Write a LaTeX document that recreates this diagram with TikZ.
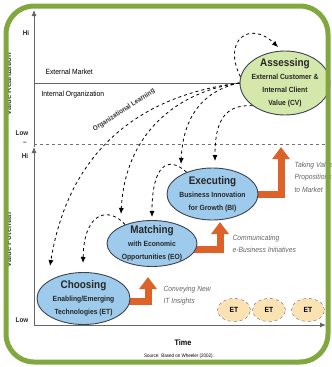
\documentclass[tikz,border=0pt]{standalone}
\usepackage{fontspec}
\setmainfont{Liberation Sans}[FakeStretch=0.9]
\usepackage{xcolor}
\usepackage{tikz}
\usetikzlibrary{positioning,shapes.geometric,arrows.meta,backgrounds}
\definecolor{framegreen}{RGB}{128,168,62}
\definecolor{stageblue}{RGB}{158,203,236}
\definecolor{stagegreen}{RGB}{212,232,172}
\definecolor{etfill}{RGB}{251,226,178}
\definecolor{growthorange}{RGB}{221,98,42}
\definecolor{edgegray}{RGB}{60,66,80}
\newcommand{\stagehead}[1]{{\fontsize{11}{13}\selectfont #1}}

\begin{document}
\begin{tikzpicture}[x=1pt, y=-1pt,
  stage/.style={draw=edgegray, line width=0.9pt, ellipse, inner sep=0pt},
  stagetext/.style={align=center, font=\bfseries\fontsize{7.5}{13}\selectfont, text=black!85},
  etnode/.style={draw=edgegray!80, dashed, ellipse, fill=etfill, minimum width=33pt, minimum height=23pt, inner sep=0pt, font=\bfseries\fontsize{7.5}{9}\selectfont},
  learning/.style={dashed, line width=0.8pt, -{Latex[length=6pt,width=5pt]}},
  growth/.style={growthorange, line width=7pt, -{Triangle[length=12pt,width=17pt]}},
  note/.style={anchor=west, align=left, text=black!60, font=\itshape\fontsize{7.5}{12.5}\selectfont},
  level/.style={font=\bfseries\fontsize{7}{8}\selectfont, text=black!85},
  axisline/.style={draw=black!60, line width=0.8pt}]
\useasboundingbox (0,0) rectangle (332,367);

\node[rotate=90, font=\bfseries\fontsize{8.5}{9}\selectfont, text=black!75] (vr) at (8,84) {Value Realization};
\node[rotate=90, font=\bfseries\fontsize{8.5}{9}\selectfont, text=black!75] (vp) at (8,240) {Value Potential};
\node[level] (hi1) at (26,33) {Hi};
\node[level] (low1) at (22,133) {Low};
\node[level] (dash1) at (25,143) {--};
\node[level] (hi2) at (25,156) {Hi};
\node[level] (low2) at (22,320) {Low};

\node[stage, fill=stagegreen, minimum width=90pt, minimum height=64pt, label={[stagetext]center:{\stagehead{Assessing}\\External Customer \&\\Internal Client\\Value (CV)}}] (cv) at (285,83) {};
\node[stage, fill=stageblue, minimum width=91pt, minimum height=52pt, label={[stagetext]center:{\stagehead{Executing}\\Business Innovation\\for Growth (BI)}}] (bi) at (212.5,194) {};
\node[stage, fill=stageblue, minimum width=90pt, minimum height=46pt, label={[stagetext]center:{\stagehead{Matching}\\with Economic\\Opportunities (EO)}}] (eo) at (152,243.5) {};
\node[stage, fill=stageblue, minimum width=93pt, minimum height=52pt, label={[stagetext]center:{\stagehead{Choosing}\\Enabling/Emerging\\Technologies (ET)}}] (et) at (83.5,298.5) {};

\draw[axisline, -{Latex[length=6pt,width=5pt]}] (34,325) -- (34,147);
\draw[axisline, -{Latex[length=6pt,width=5pt]}] (34,147) -- (34,10);
\draw[axisline, -{Latex[length=6pt,width=5pt]}] (34,325) -- (326,325);
\draw[axisline] (34,83) -- (cv.west);
\draw[black!55, dashed, line width=0.8pt] (34,144) -- (328,144);

\node[anchor=west, font=\fontsize{7.5}{9}\selectfont] (market) at (42,72) {External Market};
\node[anchor=west, font=\fontsize{7.5}{9}\selectfont] (internal) at (38,95) {Internal Organization};
\node[rotate=33, font=\bfseries\fontsize{7}{8}\selectfont, text=black!80, inner sep=1pt] (orglearn) at (124,110) {Organizational Learning};

\coordinate (toET) at (50,266);
\coordinate (toEO) at (121,214);
\coordinate (toBI) at (181,164);
\coordinate (toBIr) at (215,161);
\coordinate (cvTop) at (278,47);
\coordinate (eoTop) at (152,217);
\coordinate (etTop) at (83,263);
\draw[learning] (cv.west) .. controls (150,94) and (70,142) .. (toET);
\draw[learning] (cv.west) .. controls (175,92) and (125,135) .. (toEO);
\draw[learning] (cv.west) .. controls (205,90) and (183,115) .. (toBI);
\draw[learning] (cv.215) .. controls (222,104) and (215,125) .. (toBIr);
\draw[learning] (cv.172) .. controls (222,40) and (250,20) .. (cvTop);
\draw[learning] (bi.140) .. controls (168,155) and (152,165) .. (eoTop);
\draw[learning] (eo.145) .. controls (110,207) and (84,210) .. (etTop);

\coordinate (upEO) at (148,277);
\coordinate (upBI) at (220,222);
\coordinate (toMarket) at (281,147);
\begin{scope}[on background layer]
\draw[growth] ([yshift=-3pt]et.center) -| (upEO);
\draw[growth] ([yshift=-6pt]eo.center) -| (upBI);
\draw[growth] (bi.center) -| (toMarket);
\end{scope}

\node[note] (conveying) at (160,295.5) {Conveying New\\IT Insights};
\node[note] (communicating) at (229,244) {Communicating\\e-Business Initiatives};
\node[note] (taking) at (291,177) {Taking Value\\Propositions\\to Market};

\node[etnode] (et1) at (234,310) {ET};
\node[etnode] (et2) at (269,310) {ET};
\node[etnode] (et3) at (308,310) {ET};

\node[font=\bfseries\fontsize{8}{9}\selectfont] (time) at (183,343) {Time};
\node[font=\fontsize{5}{6}\selectfont] (source) at (179,356) {Source: Based on Wheeler (2002).};

\draw[framegreen, line width=5pt, rounded corners=28pt] (6,6) rectangle (328,362);
\end{tikzpicture}
\end{document}
